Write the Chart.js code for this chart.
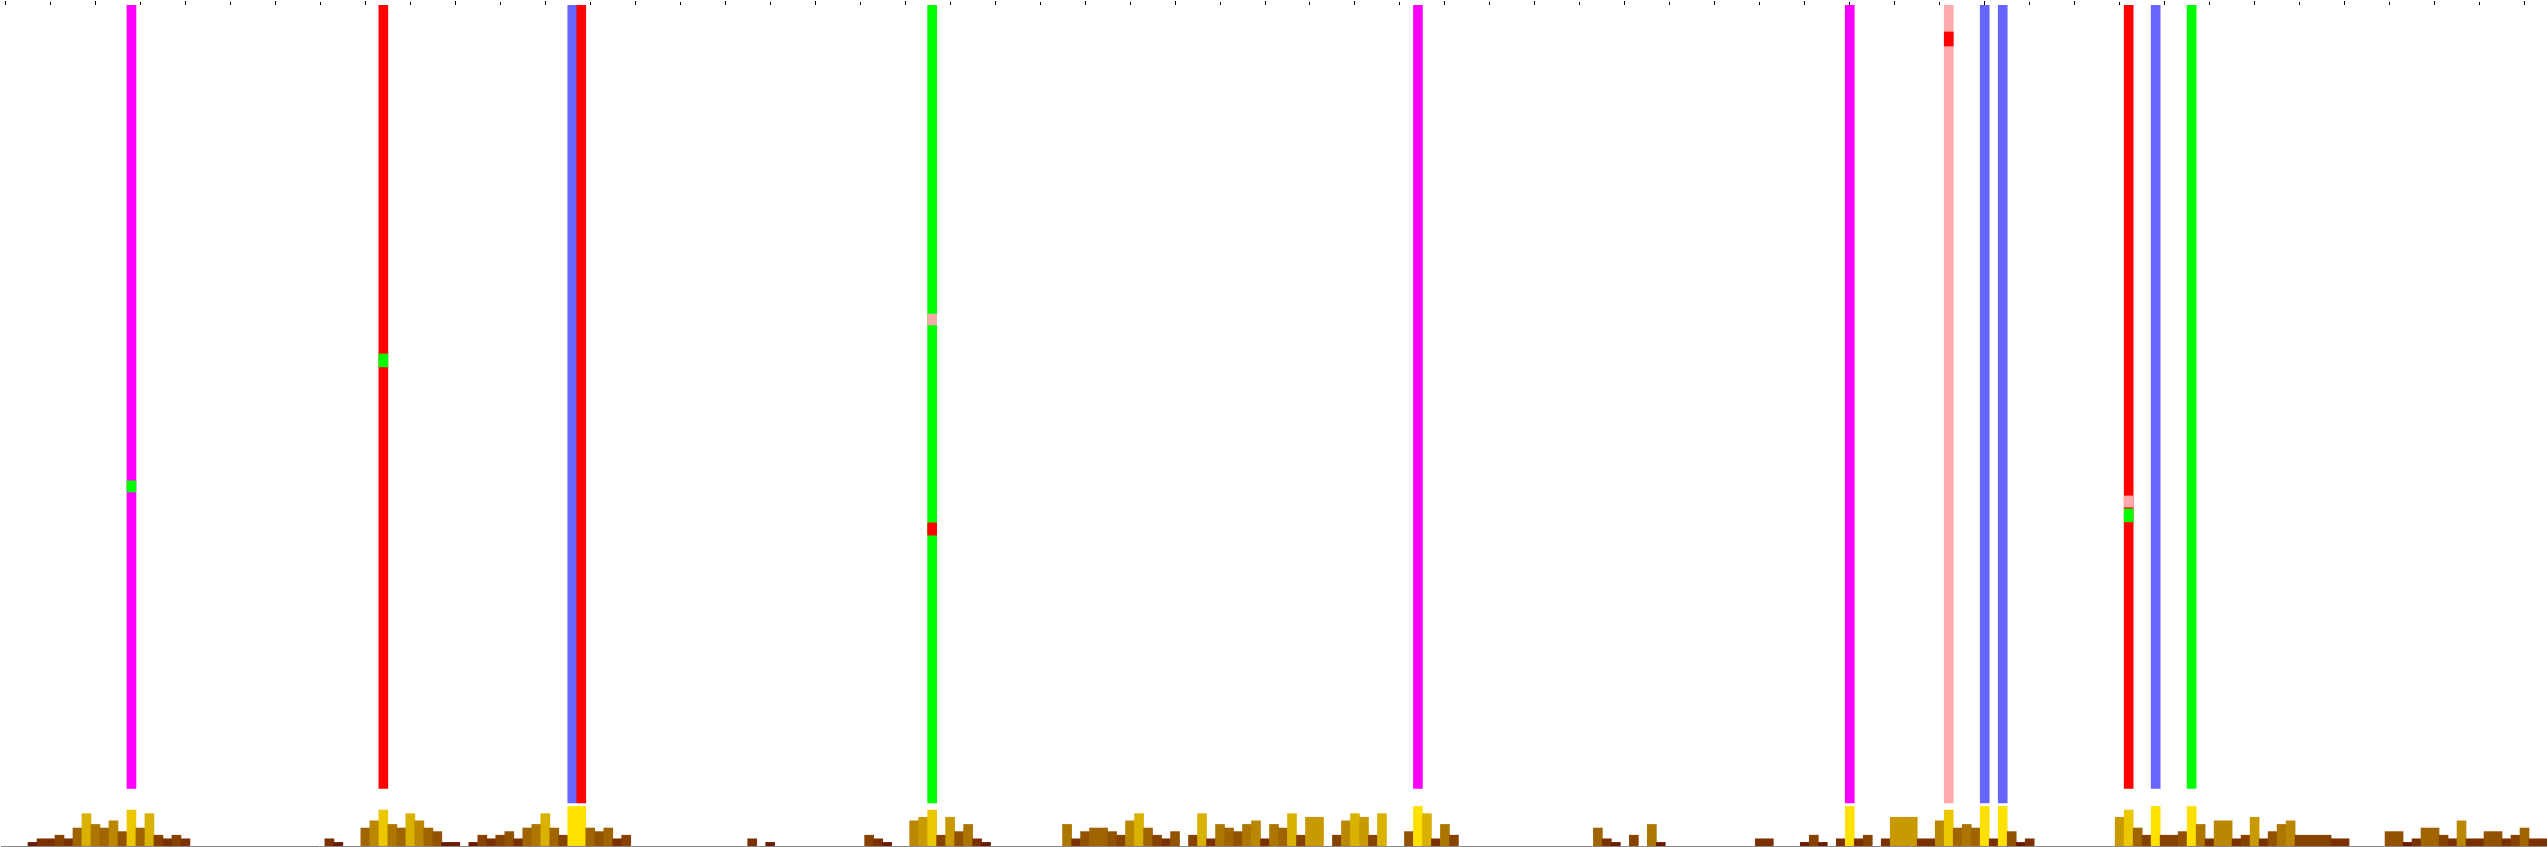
<!DOCTYPE html>
<html>
<head>
<meta charset="utf-8">
<script src="https://cdn.jsdelivr.net/npm/chart.js@4.4.0/dist/chart.umd.min.js"></script>
<style>
  html, body { margin: 0; padding: 0; background: #fff; }
  #wrap { width: 2547px; height: 847px; }
</style>
</head>
<body>
<div id="wrap"><canvas id="myChart"></canvas></div>
<script>
// read counts, one per position
const counts = [
    0, 0, 0, 1, 2, 2, 3, 2, 5, 9, 6, 5, 7, 4, 10, 5, 9, 3, 2, 3,
    2, 0, 0, 0, 0, 0, 0, 0, 0, 0, 0, 0, 0, 0, 0, 0, 2, 1, 0, 0,
    5, 7, 10, 6, 5, 9, 7, 5, 4, 1, 1, 0, 1, 3, 2, 3, 4, 2, 5, 6,
    9, 5, 3, 11, 11, 5, 4, 5, 2, 3, 0, 0, 0, 0, 0, 0, 0, 0, 0, 0,
    0, 0, 0, 2, 0, 1, 0, 0, 0, 0, 0, 0, 0, 0, 0, 0, 3, 2, 1, 0,
    0, 7, 8, 10, 3, 8, 4, 6, 2, 1, 0, 0, 0, 0, 0, 0, 0, 0, 6, 2,
    4, 5, 5, 4, 3, 7, 9, 5, 3, 2, 4, 0, 3, 9, 2, 6, 5, 4, 6, 7,
    2, 6, 5, 9, 3, 8, 8, 0, 3, 7, 9, 8, 3, 9, 0, 0, 4, 11, 9, 2,
    6, 3, 0, 0, 0, 0, 0, 0, 0, 0, 0, 0, 0, 0, 0, 0, 0, 5, 2, 1,
    0, 3, 0, 6, 1, 0, 0, 0, 0, 0, 0, 0, 0, 0, 0, 2, 2, 0, 0, 0,
    1, 3, 1, 0, 2, 11, 2, 3, 0, 2, 8, 8, 8, 2, 2, 7, 10, 5, 6, 5,
    11, 2, 11, 4, 1, 2, 0, 0, 0, 0, 0, 0, 0, 0, 0, 8, 10, 5, 3, 11,
    3, 3, 4, 11, 6, 2, 7, 7, 2, 3, 8, 2, 4, 6, 7, 3, 3, 3, 3, 2,
    2, 0, 0, 0, 0, 4, 4, 1, 2, 5, 5, 3, 2, 7, 2, 2, 4, 4, 2, 3,
    5, 2, 2
];
const positions = counts.map((_, i) => i);

// colour for each count level 1..11
const levelColors = ['#ffffff', '#6b1a00', '#7a3000', '#874200', '#935200', '#a06400',
    '#ad7600', '#bb8700', '#c89a00', '#d9b200', '#ebc700', '#ffe100'];

// tall columns: where they stand, where they start, their colour
const yMax = 234;
const peakAt = [14, 42, 63, 64, 103, 157, 205, 216, 220, 222, 236, 239, 243];
const peakFrom = [16, 16, 12, 12, 12, 16, 12, 12, 12, 12, 16, 16, 16];
const peakColor = ['#ff00ff', '#ff0000', '#6666ff', '#ff0000', '#00ff00', '#ff00ff', '#ff00ff',
    '#ffaaaa', '#6666ff', '#6666ff', '#ff0000', '#6666ff', '#00ff00'];

// short bands inside the tall columns
const segAt = [14, 42, 103, 103, 216, 236, 236];
const segFrom = [98.5, 133.3, 145, 86.5, 222.6, 94.3, 90.2];
const segTo = [101.6, 136.9, 148, 89.9, 226.5, 97.4, 93.8];
const segColor = ['#00ff00', '#00ff00', '#ffaaaa', '#ff0000', '#ff0000', '#ffaaaa', '#00ff00'];

const peakData = positions.map(() => null);
const peakBg = positions.map(() => 'transparent');
peakAt.forEach((k, i) => {
    peakData[k] = [peakFrom[i], yMax];
    peakBg[k] = peakColor[i];
});

const barBase = { grouped: false, barPercentage: 1, categoryPercentage: 1, borderWidth: 0 };

const segSets = segAt.map((k, i) => ({
    ...barBase,
    order: 0,
    data: positions.map(p => p === k ? [segFrom[i], segTo[i]] : null),
    backgroundColor: segColor[i]
}));

const ctx = document.getElementById('myChart');
const myChart = new Chart(ctx, {
    type: 'bar',
    data: {
        labels: positions,
        datasets: [
            ...segSets,
            { ...barBase, order: 1, data: peakData, backgroundColor: peakBg },
            { ...barBase, order: 2, data: counts, backgroundColor: counts.map(v => levelColors[v]) }
        ]
    },
    options: {
        responsive: true,
        maintainAspectRatio: false,
        devicePixelRatio: 1,
        animation: false,
        layout: { padding: { left: 1, top: 1, right: 0, bottom: 1 } },
        plugins: { legend: { display: false }, tooltip: { enabled: false } },
        scales: {
            x: {
                position: 'top',
                ticks: { display: false },
                border: { display: false },
                grid: {
                    offset: false,
                    drawOnChartArea: false,
                    tickLength: 4,
                    tickWidth: 1,
                    tickBorderDash: [4, 10],
                    tickBorderDashOffset: c => (c.index % 10 === 0 ? 0 : 13),
                    tickColor: c => (c.index % 5 === 0 ? '#000' : 'transparent')
                }
            },
            x2: {
                type: 'category',
                position: 'bottom',
                ticks: { display: false },
                grid: { display: false, drawTicks: false },
                border: { display: true, color: '#888', width: 1 }
            },
            y: {
                display: false,
                min: 0,
                max: yMax
            }
        }
    }
});
</script>
</body>
</html>
